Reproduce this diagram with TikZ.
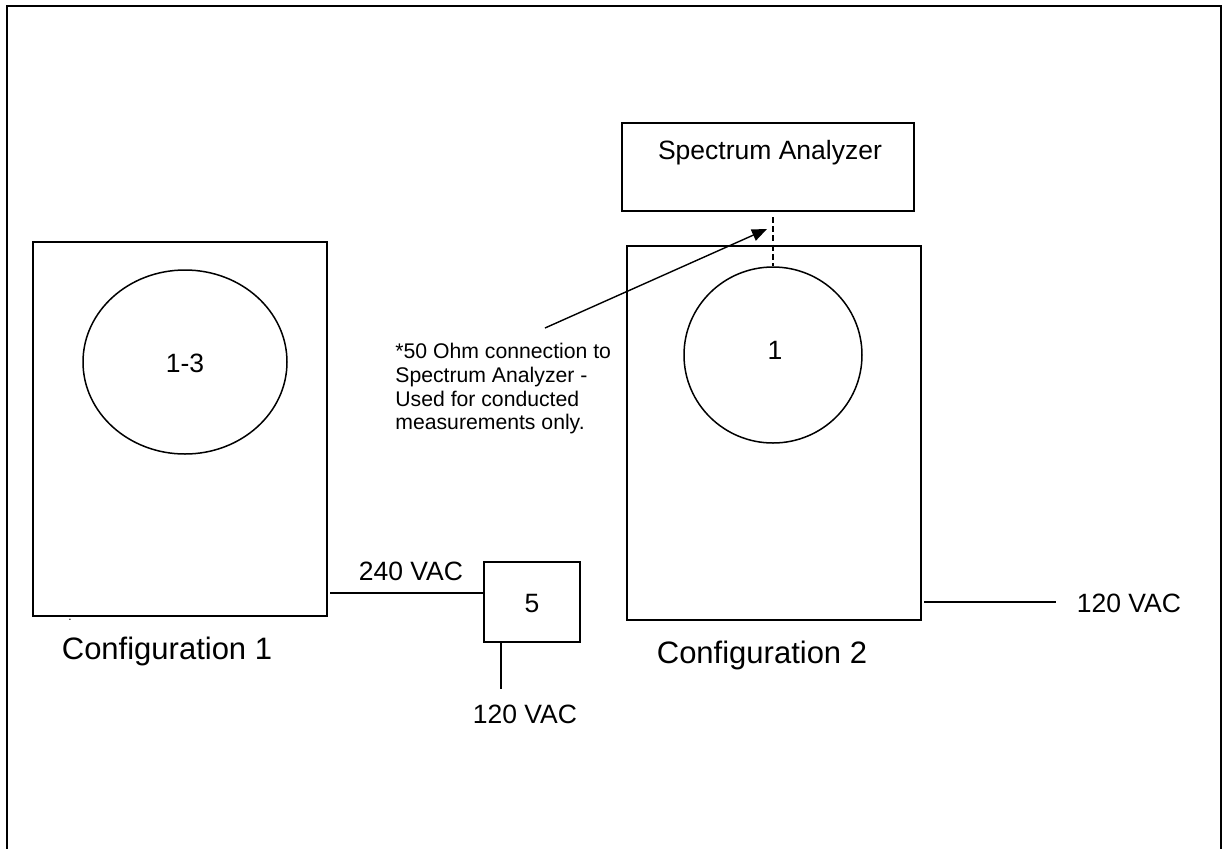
\documentclass[tikz,border=0pt]{standalone}
\usepackage{fontspec}
\setmainfont{Liberation Sans}
\usetikzlibrary{shapes.geometric,arrows.meta}
\begin{document}
\begin{tikzpicture}[x=0.5pt,y=-0.5pt,
  frame/.style={line width=1.3pt},
  unitbox/.style={draw,line width=0.9pt,rectangle,inner sep=0pt},
  disc/.style={draw,line width=0.75pt,ellipse,inner sep=0pt},
  wire/.style={line width=0.7pt},
  bigtxt/.style={inner sep=0pt,anchor=base,font=\fontsize{15.5}{18}\selectfont},
  midtxt/.style={inner sep=0pt,anchor=base,font=\fontsize{13.25}{16}\selectfont},
  notetxt/.style={inner sep=0pt,anchor=north west,align=left,font=\fontsize{10.6}{11.85}\selectfont}]
\useasboundingbox (0,0) rectangle (1223,848);
% outer frame (bottom edge lies outside the picture)
\draw[frame] (7,860) -- (7,6) -- (1221,6) -- (1221,860);
% configuration 1
\node[unitbox,minimum width=147pt,minimum height=187pt] (c1) at (180,429) {};
\node[disc,minimum width=102pt,minimum height=92pt] (e1) at (185,362) {};
\node[midtxt] (e1t) at (185,372) {1-3};
\node[inner sep=0pt,anchor=base,font=\fontsize{6}{7}\selectfont] (dot) at (70,620) {.};
\node[bigtxt] (c1t) at (167,659) {Configuration 1};
% box 5
\node[unitbox,minimum width=48pt,minimum height=40pt] (b5) at (532,602) {};
\node[midtxt] (b5t) at (532,612) {5};
\coordinate (w1) at (330,593);
\draw[wire] (w1) -- (w1 -| b5.west);
\node[midtxt] (v240) at (411,580) {240 VAC};
\coordinate (w2) at (501,689);
\draw[wire] (w2 |- b5.south) -- (w2);
\node[midtxt] (v120a) at (525,723) {120 VAC};
% configuration 2
\node[unitbox,minimum width=147pt,minimum height=187pt] (c2) at (774,433) {};
\node[disc,minimum width=89pt,minimum height=88pt] (e2) at (773,355) {};
\node[midtxt] (e2t) at (775,359) {1};
\node[bigtxt] (c2t) at (762,663) {Configuration 2};
\coordinate (w3) at (924,602);
\coordinate (w4) at (1056,602);
\draw[wire] (w3) -- (w4);
\node[midtxt] (v120b) at (1129,612) {120 VAC};
% spectrum analyzer
\node[unitbox,minimum width=146pt,minimum height=44pt] (sa) at (768,167) {};
\node[midtxt] (sat) at (770,159) {Spectrum Analyzer};
\coordinate (dtop) at (773,217);
\draw[wire,dash pattern=on 3pt off 1.6pt] (dtop) -- (e2.north);
% note and arrow
\node[notetxt] (note) at (395,343) {*50 Ohm connection to\\Spectrum Analyzer -\\Used for conducted\\measurements only.};
\coordinate (atail) at (545,328);
\coordinate (ahead) at (767,229);
\draw[wire,-{Triangle[length=7.5pt,width=6pt]}] (atail) -- (ahead);
\end{tikzpicture}
\end{document}
